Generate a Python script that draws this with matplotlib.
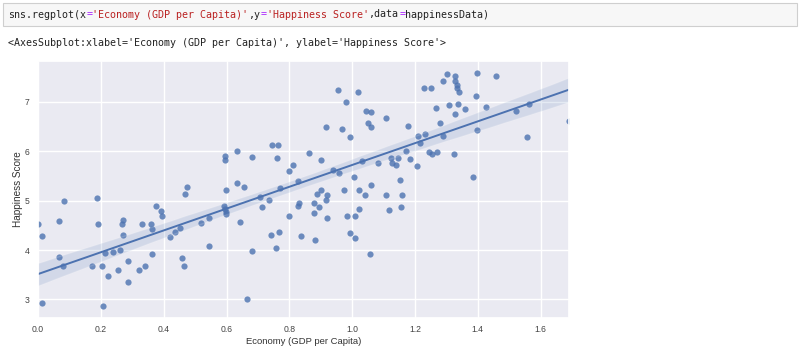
import matplotlib
matplotlib.use('Agg')
import matplotlib.pyplot as plt
from matplotlib.patches import Rectangle
import seaborn as sns
import pandas as pd

# values (Economy, Happiness Score)
economy = [
    0.00, 0.014, 0.014, 0.067, 0.082, 0.067, 0.078, 0.188, 0.190, 0.173,
    0.205, 0.212, 0.208, 0.222, 0.239, 0.256, 0.260, 0.269, 0.269, 0.266,
    0.286, 0.285, 0.320, 0.330, 0.341, 0.360, 0.362, 0.364, 0.375, 0.390,
    0.396, 0.420, 0.437, 0.453, 0.458, 0.464, 0.468, 0.474, 0.519, 0.545,
    0.545,
    0.597, 0.592, 0.594, 0.598, 0.598, 0.655, 0.644, 0.680, 0.665, 0.705,
    0.735, 0.713, 0.770, 0.798, 0.743, 0.768, 0.758, 0.827, 0.832, 0.836,
    0.878, 0.880, 0.895, 0.883, 0.889, 0.900, 0.918, 0.920, 0.920, 0.973,
    0.983, 1.008, 1.023, 1.023, 1.040, 0.992, 1.010, 1.058, 1.060, 1.109,
    1.118, 1.160, 1.154,
    0.594, 0.594, 0.632, 0.682, 0.745, 0.765, 0.760, 0.634, 0.800, 0.811,
    0.828, 0.863, 0.901, 0.918, 0.956, 0.981, 0.966, 0.994, 1.019, 1.044,
    1.061, 1.050, 1.059, 1.107, 0.939, 0.958, 1.006, 1.032, 1.082,
    1.124, 1.128, 1.139, 1.147, 1.151, 1.170, 1.185, 1.179, 1.206, 1.208,
    1.215, 1.232, 1.229, 1.251, 1.246, 1.253, 1.269, 1.267, 1.278, 1.290,
    1.290, 1.303, 1.309, 1.324, 1.326, 1.328, 1.332, 1.335, 1.339, 1.328,
    1.337, 1.360, 1.396, 1.394, 1.396, 1.386, 1.425, 1.459, 1.522, 1.562,
    1.556, 1.690,
]
happiness = [
    4.52, 4.29, 2.92, 4.59, 4.99, 3.85, 3.68, 5.06, 4.52, 3.67,
    3.68, 3.94, 2.86, 3.48, 3.95, 3.59, 4.00, 4.30, 4.61, 4.52,
    3.78, 3.35, 3.59, 4.52, 3.67, 4.52, 4.42, 3.91, 4.90, 4.79,
    4.69, 4.26, 4.37, 4.44, 3.83, 3.67, 5.14, 5.28, 4.55, 4.64,
    4.09,
    5.21, 4.90, 4.83, 4.76, 4.72, 5.27, 4.57, 3.99, 3.01, 5.08,
    5.02, 4.87, 5.26, 4.69, 4.30, 4.36, 4.05, 4.90, 4.95, 4.28,
    4.96, 4.75, 4.88, 4.20, 5.14, 5.21, 5.02, 5.12, 4.64, 5.21,
    4.68, 4.69, 4.84, 5.22, 5.12, 4.34, 4.24, 3.91, 5.31, 5.11,
    4.81, 5.11, 4.87,
    5.91, 5.83, 6.00, 5.89, 6.12, 6.12, 5.87, 5.36, 5.59, 5.72,
    5.40, 5.97, 5.83, 6.49, 7.24, 6.99, 6.45, 6.28, 7.19, 6.82,
    6.80, 6.58, 6.49, 6.68, 5.61, 5.56, 5.48, 5.81, 5.77,
    5.87, 5.77, 5.72, 5.86, 5.42, 6.00, 5.84, 6.52, 5.71, 6.30,
    6.17, 6.34, 7.28, 7.28, 5.99, 5.95, 5.99, 6.87, 6.58, 6.30,
    7.42, 7.56, 6.93, 5.95, 7.53, 7.42, 7.35, 7.27, 7.20, 6.76,
    6.95, 6.85, 7.59, 7.12, 6.42, 5.48, 6.90, 7.53, 6.81, 6.96,
    6.29, 6.62,
]

happinessData = pd.DataFrame({'Economy (GDP per Capita)': economy,
                              'Happiness Score': happiness})

sns.set_theme(style='darkgrid')
plt.rcParams['font.family'] = ['Liberation Sans', 'DejaVu Sans']

fig = plt.figure(figsize=(8, 3.6), dpi=100)
W, H = 800, 360

# notebook code cell
fig.add_artist(Rectangle((3 / W, 1 - 26 / H), 794 / W, 23 / H, transform=fig.transFigure,
                         facecolor='#f7f7f7', edgecolor='#cfcfcf', linewidth=0.8))
fs = 7.2
cw = 0.602 * fs / 72 * 100  # char advance in px
pieces = [("sns.regplot(x", '#222222'), ("=", '#aa22ff'), ("'Economy (GDP per Capita)'", '#ba2121'),
          (",y", '#222222'), ("=", '#aa22ff'), ("'Happiness Score'", '#ba2121'),
          (",data", '#222222'), ("=", '#aa22ff'), ("happinessData)", '#222222')]
pos = 0
for txt, col in pieces:
    fig.text((8 + pos * cw) / W, 1 - 14.5 / H, txt, color=col, fontsize=fs,
             family='DejaVu Sans Mono', va='center', ha='left')
    pos += len(txt)

fig.text(8 / W, 1 - 43 / H,
         "<AxesSubplot:xlabel='Economy (GDP per Capita)', ylabel='Happiness Score'>",
         fontsize=fs, family='DejaVu Sans Mono', va='center', ha='left', color='#222222')

ax = fig.add_axes([38 / W, 1 - 318 / H, 531 / W, 257 / H])
sns.regplot(x='Economy (GDP per Capita)', y='Happiness Score', data=happinessData, ax=ax,
            seed=0, scatter_kws={'s': 20, 'linewidths': 0},
            line_kws={'linewidth': 1.4})
ax.set_xlim(min(economy), max(economy))
ax.set_yticks([3, 4, 5, 6, 7])
ax.tick_params(length=0, labelsize=6.2, colors='#444444')
ax.tick_params(axis='x', pad=5)
ax.tick_params(axis='y', pad=6)
ax.xaxis.label.set_size(6.8)
ax.yaxis.label.set_size(7.2)
ax.xaxis.label.set_color('#333333')
ax.yaxis.label.set_color('#333333')
ax.xaxis.labelpad = 2
ax.yaxis.labelpad = 1

fig.savefig('out.png', dpi=100)
